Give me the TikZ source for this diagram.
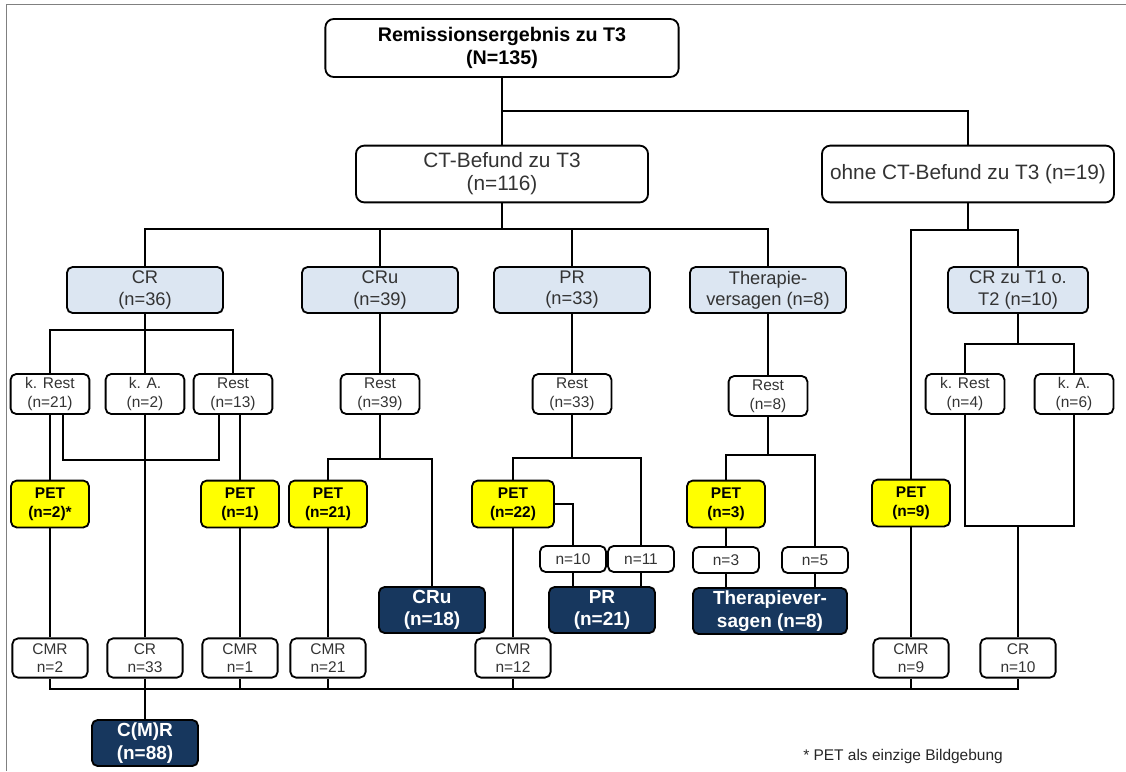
\documentclass[tikz,border=0pt]{standalone}
\usepackage{fontspec}
\setmainfont{Liberation Sans}
\usepackage{xcolor}
\usetikzlibrary{positioning, calc}
\definecolor{catblue}{HTML}{DCE6F2}
\definecolor{petyellow}{HTML}{FFFF00}
\definecolor{navy}{HTML}{17375E}
\definecolor{txtgray}{HTML}{333333}

\begin{document}
\begin{tikzpicture}
      [x=0.025cm, y=-0.025cm, line width=1.3pt,
       box/.style={draw, rounded corners=4pt, inner sep=0pt, align=center},
       head/.style={box, rounded corners=6pt, minimum width=8.83cm, minimum height=1.45cm, font=\fontsize{14}{16}\selectfont\bfseries},
       ct/.style={box, rounded corners=6pt, minimum width=7.3cm, minimum height=1.42cm, text=txtgray, font=\fontsize{14.8}{16.5}\selectfont},
       cat/.style={box, fill=catblue, minimum width=3.9cm, minimum height=1.15cm, text=txtgray, font=\fontsize{13}{15}\selectfont},
       sub/.style={box, minimum width=1.97cm, minimum height=1cm, text=txtgray, font=\fontsize{11}{13.5}\selectfont},
       pet/.style={box, fill=petyellow, minimum width=1.95cm, minimum height=1.17cm, font=\fontsize{11}{13.3}\selectfont\bfseries},
       num/.style={box, minimum width=1.65cm, minimum height=0.65cm, text=txtgray, font=\fontsize{11}{13}\selectfont},
       res/.style={box, minimum width=1.88cm, minimum height=0.98cm, text=txtgray, font=\fontsize{11}{13}\selectfont},
       final/.style={box, fill=navy, text=white, minimum width=2.65cm, minimum height=1.15cm, font=\fontsize{13.5}{16}\selectfont\bfseries}]
        \useasboundingbox (0,0) rectangle (1126,771);
        \draw[gray, line width=0.6pt] (6,771) -- (6,4) -- (1126,4);

        % top levels
        \node (head) at (502,48) [head] {Remissionsergebnis zu T3\\(N=135)};
        \node (CT) at (502,174) [ct] {CT-Befund zu T3\\(n=116)};
        \node (ohne) at (968,174) [ct] {ohne CT-Befund zu T3 (n=19)};

        \node (CR) at (145,290) [cat] {CR\\(n=36)};
        \node (CRu) at (380,290) [cat] {CRu\\(n=39)};
        \node (PR) at (572,290) [cat] {PR\\(n=33)};
        \node (Th) at (768,290) [cat] {Therapie-\\versagen (n=8)};
        \node (CRzu) at (1018,290) [cat, minimum width=3.5cm] {CR zu T1 o.\\T2 (n=10)};

        \node (kR21) at (50,394) [sub] {k. Rest\\(n=21)};
        \node (kA2) at (145,394) [sub] {k. A.\\(n=2)};
        \node (R13) at (233,394) [sub] {Rest\\(n=13)};
        \node (R39) at (380,394) [sub] {Rest\\(n=39)};
        \node (R33) at (572,394) [sub] {Rest\\(n=33)};
        \node (R8) at (768,396) [sub] {Rest\\(n=8)};
        \node (kR4) at (965,394) [sub] {k. Rest\\(n=4)};
        \node (kA6) at (1074,394) [sub] {k. A.\\(n=6)};

        \node (PET2) at (50,504) [pet] {PET\\(n=2)*};
        \node (PET1) at (240,504) [pet] {PET\\(n=1)};
        \node (PET21) at (328,504) [pet] {PET\\(n=21)};
        \node (PET22) at (513,504) [pet, minimum width=2.05cm] {PET\\(n=22)};
        \node (PET3) at (726,504) [pet] {PET\\(n=3)};
        \node (PET9) at (911,503) [pet] {PET\\(n=9)};

        \node (n10) at (573,559) [num] {n=10};
        \node (n11) at (641,559) [num] {n=11};
        \node (n3) at (726,560) [num] {n=3};
        \node (n5) at (815,560) [num] {n=5};

        \node (CRu18) at (432,610) [final] {CRu\\(n=18)};
        \node (PR21) at (602,610) [final] {PR\\(n=21)};
        \node (Th8) at (770,611) [final, minimum width=3.85cm] {Therapiever-\\sagen (n=8)};

        \node (CMR2) at (50,658) [res] {CMR\\n=2};
        \node (CR33) at (145,658) [res] {CR\\n=33};
        \node (CMR1) at (240,658) [res] {CMR\\n=1};
        \node (CMR21) at (328,658) [res] {CMR\\n=21};
        \node (CMR12) at (513,658) [res] {CMR\\n=12};
        \node (CMR9) at (911,658) [res] {CMR\\n=9};
        \node (CR10) at (1018,658) [res] {CR\\n=10};

        \node (CMR88) at (145,743) [final] {C(M)R\\(n=88)};
        \node (note) at (903,756) [font=\fontsize{11}{13}\selectfont, text=black!85] {* PET als einzige Bildgebung};

        % connectors
        \coordinate (jTop) at (502,111);
        \coordinate (jCT) at (502,229);
        \coordinate (jBot) at (0,689);
        \coordinate (jU) at (1018,526);
        \draw (head) -- (CT);
        \draw (jTop) -| (ohne.north);
        \draw (CT.south) -- (jCT);
        \draw (CR.north) |- (jCT) -| (Th.north);
        \draw (CRu.north) -- (CRu.north |- jCT);
        \draw (PR.north) -- (PR.north |- jCT);

        \draw (CR.south) -- ++(0,16) coordinate (jCR);
        \draw (kR21.north) |- (jCR) -| (R13.north);
        \draw (jCR) -- (kA2.north);
        \draw (kR21) -- (PET2);
        \draw ($(kR21.south)+(13,0)$) -- ++(0,45) -| ($(R13.south)+(-14,0)$);
        \draw (PET1.north) -- (PET1.north |- R13.south);
        \draw (PET2) -- (CMR2);
        \draw (kA2) -- (CR33);
        \draw (PET1) -- (CMR1);

        \draw (CRu) -- (R39);
        \draw (R39.south) -- ++(0,44) coordinate (jCRu);
        \draw (PET21.north) |- (jCRu) -| (CRu18.north);
        \draw (PET21) -- (CMR21);

        \draw (PR) -- (R33);
        \draw (R33.south) -- ++(0,43) coordinate (jPR);
        \draw (PET22.north) |- (jPR) -| (n11.north);
        \draw (PET22.east) -| (n10.north);
        \draw (n10.south) -- (n10.south |- PR21.north);
        \draw (n11.south) -- (n11.south |- PR21.north);
        \draw (PET22) -- (CMR12);

        \draw (Th) -- (R8);
        \draw (R8.south) -- ++(0,38) coordinate (jTh);
        \draw (PET3.north) |- (jTh) -| (n5.north);
        \draw (PET3) -- (n3);
        \draw (n3.south) -- (n3.south |- Th8.north);
        \draw (n5.south) -- (n5.south |- Th8.north);

        \draw (ohne.south) -- ++(0,27) coordinate (jR);
        \draw (PET9.north) |- (jR) -| (CRzu.north);
        \draw (PET9) -- (CMR9);
        \draw (CRzu.south) -- ++(0,30) coordinate (jCz);
        \draw (kR4.north) |- (jCz) -| (kA6.north);
        \draw (kR4.south) |- (jU) -| (kA6.south);
        \draw (jU) -- (CR10.north);

        \draw (CMR2.south) -- (CMR2.south |- jBot) -| (CR10.south);
        \draw (CR33.south) -- (CMR88.north);
        \foreach \b in {CMR1,CMR21,CMR12,CMR9}
          \draw (\b.south) -- (\b.south |- jBot);
      \end{tikzpicture}
\end{document}
